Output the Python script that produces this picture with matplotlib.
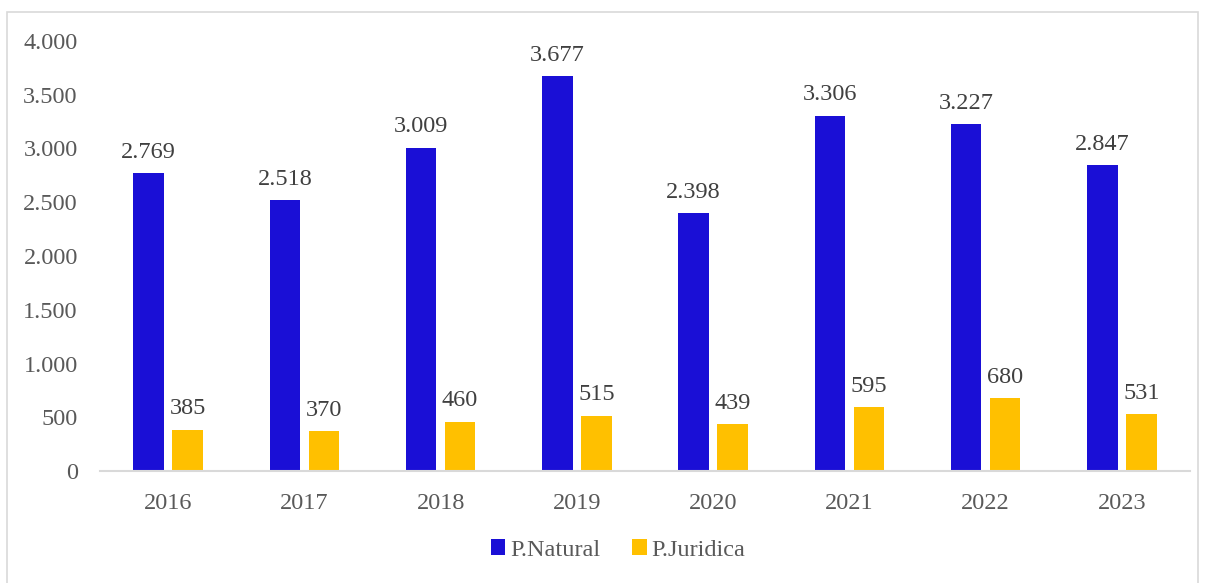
import matplotlib.pyplot as plt
import numpy as np
from matplotlib.patches import Rectangle

years = ['2016', '2017', '2018', '2019', '2020', '2021', '2022', '2023']
natural = [2769, 2518, 3009, 3677, 2398, 3306, 3227, 2847]
juridica = [385, 370, 460, 515, 439, 595, 680, 531]

plt.rcParams['font.family'] = ['Liberation Serif', 'DejaVu Serif']

def fmt(v):
    return f'{v:,}'.replace(',', '.')

fig = plt.figure(figsize=(12.09, 5.83), dpi=100)
ax = fig.add_axes([100/1209, 1-471/583, 1090/1209, 430/583])

x = np.arange(len(years))
w = 0.225
b1 = ax.bar(x - 0.143, natural, w, color='#1A0FD6', label='P.Natural')
b2 = ax.bar(x + 0.143, juridica, w, color='#FFC000', label='P.Juridica')

for rect, v in zip(b1, natural):
    ax.text(rect.get_x() + rect.get_width()/2, v + 95, fmt(v), ha='center', va='bottom',
            fontsize=17.5, color='#404040')
for rect, v in zip(b2, juridica):
    ax.text(rect.get_x() + rect.get_width()/2, v + 95, fmt(v), ha='center', va='bottom',
            fontsize=17.5, color='#404040')

ax.set_xlim(-0.5, len(years) - 0.5)
ax.set_ylim(0, 4000)
ax.set_yticks(range(0, 4001, 500))
ax.set_yticklabels([fmt(v) for v in range(0, 4001, 500)])
ax.set_xticks(x)
ax.set_xticklabels(years)
ax.tick_params(axis='both', length=0, labelsize=17.5, labelcolor='#595959')
ax.tick_params(axis='y', pad=16)
ax.tick_params(axis='x', pad=16)
for s in ['top', 'right', 'left']:
    ax.spines[s].set_visible(False)
ax.spines['bottom'].set_color('#D9D9D9')
ax.spines['bottom'].set_linewidth(1.5)

fig.legend(handles=[b1, b2], loc='center', bbox_to_anchor=(618/1209, 1-550/583), ncol=2,
           frameon=False, fontsize=17.5, labelcolor='#595959', handlelength=0.6,
           handleheight=0.6, handletextpad=0.2, columnspacing=1.3)

fig.patches.append(Rectangle((7/1209, -0.05), 1191/1209, 1.05 - 12/583, transform=fig.transFigure,
                             fill=False, edgecolor='#D9D9D9', linewidth=1.2))

fig.savefig('out.png', dpi=100)
